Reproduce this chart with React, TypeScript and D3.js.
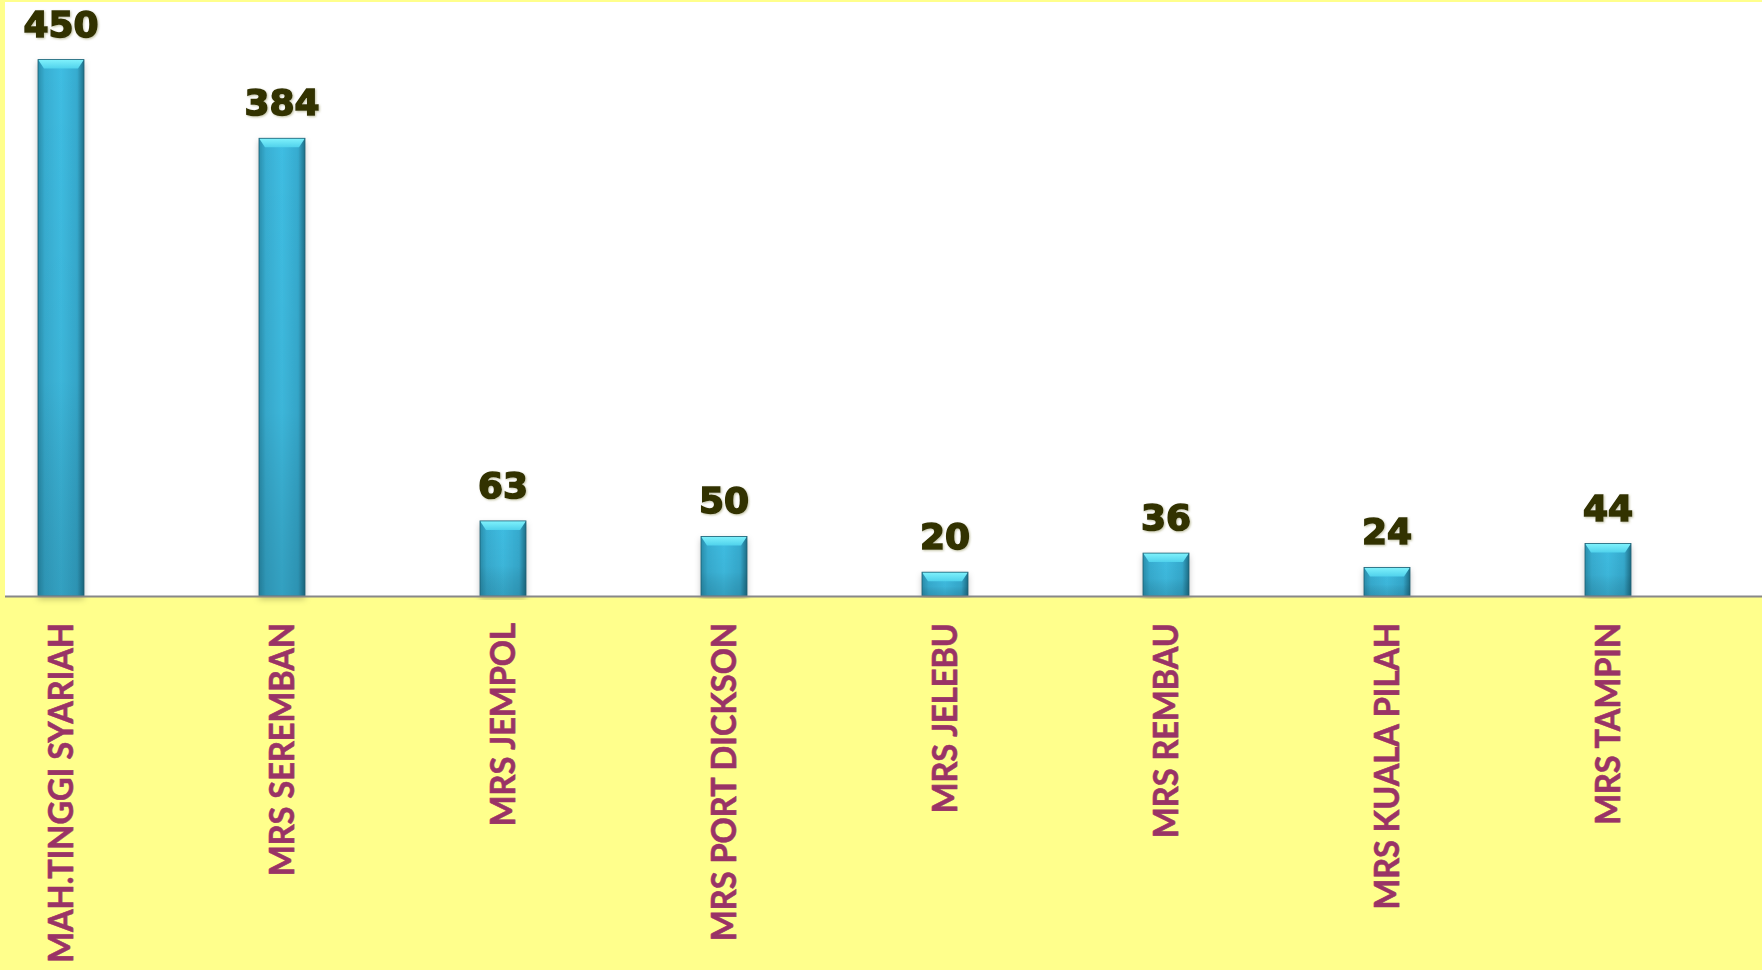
import React from "react";
import * as d3 from "d3";

const categories = [
  "MAH.TINGGI SYARIAH",
  "MRS SEREMBAN",
  "MRS JEMPOL",
  "MRS PORT DICKSON",
  "MRS JELEBU",
  "MRS REMBAU",
  "MRS KUALA PILAH",
  "MRS TAMPIN",
];
const values = [450, 384, 63, 50, 20, 36, 24, 44];

const W = 1762;
const H = 970;

export default function App() {
  const x = d3.scalePoint<string>().domain(categories).range([61, 1608]);
  const y = d3.scaleLinear().domain([0, 500]).range([596, 0]);
  const bw = 46;
  const bev = 9;
  const side = 6;
  return (
    <div style={{ position: "fixed", left: 0, top: 0 }}>
      <svg width={W} height={H} style={{ display: "block" }}>
        <defs>
          <linearGradient id="body" x1="0" x2="1" y1="0" y2="0">
            <stop offset="0" stopColor="#2a8fad" />
            <stop offset="0.15" stopColor="#38aed2" />
            <stop offset="0.5" stopColor="#3fbde2" />
            <stop offset="0.85" stopColor="#36abcf" />
            <stop offset="1" stopColor="#1f6f88" />
          </linearGradient>
          <linearGradient id="shade" x1="0" x2="0" y1="0" y2="1">
            <stop offset="0" stopColor="#000" stopOpacity="0" />
            <stop offset="0.6" stopColor="#000" stopOpacity="0.04" />
            <stop offset="1" stopColor="#0a3a4a" stopOpacity="0.22" />
          </linearGradient>
          <linearGradient id="topface" x1="0" x2="0" y1="0" y2="1">
            <stop offset="0" stopColor="#80f2fc" />
            <stop offset="1" stopColor="#50d2ec" />
          </linearGradient>
          <filter id="sh" x="-30%" y="-5%" width="160%" height="110%">
            <feDropShadow dx="0" dy="3" stdDeviation="3" floodColor="#000" floodOpacity="0.25" />
          </filter>
          <filter id="tsh" x="-10%" y="-10%" width="120%" height="130%">
            <feDropShadow dx="1" dy="1" stdDeviation="1" floodColor="#999966" floodOpacity="0.6" />
          </filter>
        </defs>
        <rect x={0} y={0} width={W} height={H} fill="#ffff8c" />
        <rect x={5} y={2} width={W - 5} height={y(0) - 2} fill="#ffffff" />
        {categories.map((c, i) => {
          const cx = x(c)!;
          const x0 = cx - bw / 2;
          const top = y(values[i]);
          const bottom = y(0);
          const h = bottom - top;
          return (
            <g key={c}>
              <g filter="url(#sh)">
                <rect x={x0} y={top} width={bw} height={h} fill="url(#body)" />
              </g>
              <rect x={x0} y={top} width={bw} height={h} fill="url(#shade)" />
              <polygon
                points={`${x0},${top} ${x0 + bw},${top} ${x0 + bw - side},${top + bev} ${x0 + side},${top + bev}`}
                fill="url(#topface)"
              />
              <rect x={x0} y={top} width={bw} height={h} fill="none" stroke="#1d5f73" strokeWidth={0.8} />
              <text
                x={cx}
                y={top - 23}
                textAnchor="middle"
                fontFamily="'DejaVu Sans', sans-serif"
                fontWeight="bold"
                fontSize={36}
                fill="#333300"
                stroke="#333300"
                strokeWidth={1.6}
                filter="url(#tsh)"
              >
                {values[i]}
              </text>
              <text
                transform={`translate(${cx + 12},${623}) rotate(-90) scale(0.93,1)`}
                textAnchor="end"
                fontFamily="Lato, 'Open Sans', sans-serif"
                fontWeight="bold"
                fontSize={35}
                fill="#993366"
                stroke="#993366"
                strokeWidth={0.6}
              >
                {c}
              </text>
            </g>
          );
        })}
        <line x1={5} x2={W} y1={y(0) + 0.5} y2={y(0) + 0.5} stroke="#888888" strokeWidth={2} />
      </svg>
    </div>
  );
}
